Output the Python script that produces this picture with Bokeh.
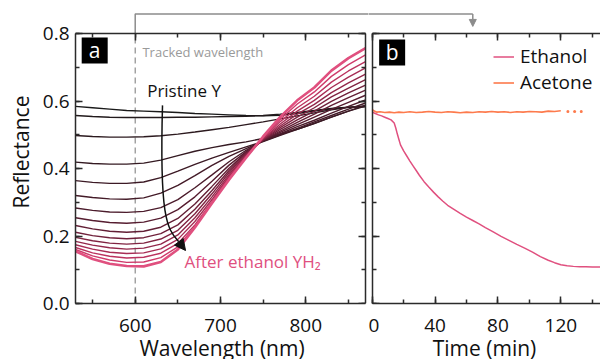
from bokeh.plotting import figure
from bokeh.models import (Range1d, LinearAxis, SingleIntervalTicker, Arrow, NormalHead,
                          Label, Legend, LegendItem, NumeralTickFormatter, GlobalInlineStyleSheet)
from bokeh.layouts import row
from bokeh.embed import file_html
from bokeh.resources import INLINE

FONT = "Open Sans"
AXIS_COLOR = "#2b2b2b"
GRAY = "#8c8c8c"
PINK = "#e0507f"
ORANGE = "#fd7a4c"

# ---------------- data: panel a (spectra) ----------------
wavelengths = [530, 550, 570, 590, 610, 630, 650, 670, 690, 710, 730, 750, 770, 790, 810, 830, 850, 870]

spectrum_00 = [.584, .580, .576, .572, .570, .568, .566, .563, .561, .559, .557, .556, .558, .563, .570, .577, .581, .583]
spectrum_01 = [.557, .554, .552, .551, .551, .551, .552, .552, .553, .554, .555, .557, .561, .566, .572, .578, .582, .584]
spectrum_02 = [.498, .495, .493, .493, .494, .497, .502, .508, .515, .522, .530, .538, .547, .556, .565, .574, .581, .585]
spectrum_03 = [.419, .415, .413, .413, .416, .425, .438, .451, .462, .471, .479, .489, .502, .516, .533, .552, .570, .585]
spectrum_04 = [.364, .359, .356, .356, .360, .373, .392, .412, .431, .448, .464, .480, .498, .516, .534, .552, .570, .588]
spectrum_05 = [.320, .314, .310, .309, .313, .327, .350, .379, .409, .436, .459, .481, .500, .519, .538, .557, .576, .594]
spectrum_06 = [.283, .276, .271, .270, .273, .284, .308, .343, .381, .420, .454, .482, .503, .524, .543, .564, .584, .603]
spectrum_07 = [.254, .246, .240, .238, .241, .253, .278, .316, .362, .410, .450, .483, .507, .530, .552, .575, .596, .617]
spectrum_08 = [.231, .221, .214, .211, .214, .226, .252, .295, .347, .401, .447, .484, .511, .537, .561, .587, .610, .632]
spectrum_09 = [.211, .201, .195, .192, .195, .207, .233, .279, .335, .394, .445, .485, .516, .544, .570, .599, .624, .647]
spectrum_10 = [.196, .186, .179, .176, .179, .191, .217, .266, .325, .388, .442, .486, .521, .552, .580, .612, .638, .663]
spectrum_11 = [.184, .173, .165, .161, .164, .176, .203, .254, .316, .382, .439, .488, .526, .561, .590, .625, .654, .680]
spectrum_12 = [.174, .161, .152, .148, .150, .162, .190, .243, .308, .377, .437, .489, .532, .570, .602, .640, .671, .698]
spectrum_13 = [.166, .150, .140, .135, .137, .149, .178, .233, .302, .373, .435, .491, .539, .580, .614, .656, .689, .717]
spectrum_14 = [.160, .141, .129, .122, .123, .136, .168, .228, .298, .370, .433, .493, .546, .591, .627, .673, .708, .737]
spectrum_15 = [.155, .132, .118, .111, .110, .123, .160, .225, .297, .367, .432, .495, .553, .602, .640, .690, .727, .757]

spectra = [spectrum_00, spectrum_01, spectrum_02, spectrum_03, spectrum_04, spectrum_05,
           spectrum_06, spectrum_07, spectrum_08, spectrum_09, spectrum_10, spectrum_11,
           spectrum_12, spectrum_13, spectrum_14, spectrum_15]
spectra_colors = ["#1a1a1a", "#221a1c", "#2c1a1f", "#341a22", "#3c1a25", "#441b28",
                  "#4c1c2c", "#561d30", "#621f35", "#70213b", "#802442", "#93284b",
                  "#a72d55", "#bb335f", "#cf3b6b", PINK]

# ---------------- data: panel b (time traces) ----------------
time_ethanol = [0, 2, 4, 6, 8, 10, 12, 14, 15, 16, 17, 18, 20, 22, 24, 26, 28, 30, 33, 36, 39, 42,
                45, 48, 52, 56, 60, 64, 68, 72, 77, 82, 87, 92, 97, 102, 107, 112, 116, 120, 124,
                128, 132, 136, 140, 146]
refl_ethanol = [0.567, 0.563, 0.559, 0.556, 0.552, 0.548, 0.544, 0.535, 0.520, 0.502, 0.486, 0.470,
                0.452, 0.437, 0.422, 0.408, 0.394, 0.380, 0.361, 0.345, 0.330, 0.316, 0.303, 0.291,
                0.279, 0.267, 0.256, 0.246, 0.236, 0.225, 0.212, 0.199, 0.187, 0.175, 0.164, 0.152,
                0.139, 0.128, 0.121, 0.115, 0.112, 0.110, 0.109, 0.109, 0.108, 0.108]

time_acetone = [0, 1, 3, 5, 8, 11, 14, 17, 20, 24, 28, 32, 36, 40, 44, 48, 52, 56, 60, 64, 68, 72,
                76, 80, 84, 88, 92, 96, 100, 104, 108, 112, 116, 120]
refl_acetone = [0.575, 0.571, 0.567, 0.568, 0.566, 0.567, 0.565, 0.567, 0.566, 0.568, 0.566, 0.567,
                0.569, 0.567, 0.566, 0.568, 0.567, 0.565, 0.567, 0.566, 0.568, 0.567, 0.569, 0.567,
                0.568, 0.566, 0.568, 0.567, 0.569, 0.568, 0.567, 0.570, 0.569, 0.571]
time_acetone_dots = [124.5, 128.8, 133.0]
refl_acetone_dots = [0.569, 0.569, 0.569]

# ---------------- annotation anchors ----------------
TRACKED_WL = 600
TRACK_TIME = 64
BRACKET_Y = 0.858
ARROW_TIP_Y = 0.821

WL_MIN, WL_MAX = 530, 870
XA_END = 873.5
T_AXIS_MAX = 147
XB_START, XB_END = -2.35, 145.25
R_MIN, R_MAX, Y_END = 0.0, 0.8, 0.8978

# the original figure continues below the visible window; the page hides the overflow
H = 372
BOTTOM = 69


def style_axis(ax, labels=True):
    ax.axis_line_color = AXIS_COLOR
    ax.axis_line_width = 1.5
    ax.major_tick_line_color = AXIS_COLOR
    ax.major_tick_line_width = 1.5
    ax.minor_tick_line_color = AXIS_COLOR
    ax.minor_tick_line_width = 1.5
    ax.major_tick_in = 7
    ax.major_tick_out = 0
    ax.minor_tick_in = 4
    ax.minor_tick_out = 0
    ax.major_label_text_font = FONT
    ax.major_label_text_font_size = "19px"
    ax.major_label_text_color = "#111111" if labels else None
    ax.axis_label_text_font = FONT
    ax.axis_label_text_font_size = "21px"
    ax.axis_label_text_font_style = "normal"
    ax.axis_label_text_color = "#111111"


def new_fig(width, x_range, min_left):
    p = figure(width=width, height=H, x_range=x_range, y_range=Range1d(R_MIN, Y_END),
               output_backend="svg", toolbar_location=None,
               min_border_left=min_left, min_border_right=0, min_border_top=0,
               min_border_bottom=BOTTOM)
    p.xgrid.visible = False
    p.ygrid.visible = False
    p.outline_line_color = None
    p.background_fill_color = "white"
    p.border_fill_color = "white"
    return p


# ================= panel a =================
pa = new_fig(368, Range1d(WL_MIN, XA_END), 75)

wl_ticker = SingleIntervalTicker(interval=100, num_minor_ticks=2)
r_ticker = SingleIntervalTicker(interval=0.2, num_minor_ticks=2)

xa = pa.xaxis[0]
xa.ticker = wl_ticker
xa.bounds = (WL_MIN, WL_MAX)
xa.axis_label = "Wavelength (nm)"
style_axis(xa)
xa.major_label_standoff = 15
xa.axis_label_standoff = -1

ya = pa.yaxis[0]
ya.ticker = r_ticker
ya.bounds = (R_MIN, R_MAX)
ya.axis_label = "Reflectance"
ya.formatter = NumeralTickFormatter(format="0.0")
style_axis(ya)
ya.major_label_standoff = 6
ya.axis_label_standoff = 5

top_a = LinearAxis(ticker=wl_ticker, bounds=(WL_MIN, WL_MAX), fixed_location=R_MAX)
style_axis(top_a, labels=False)
pa.add_layout(top_a, "above")
right_a = LinearAxis(ticker=r_ticker, bounds=(R_MIN, R_MAX), fixed_location=WL_MAX)
style_axis(right_a, labels=False)
pa.add_layout(right_a, "right")

# tracked wavelength marker and bracket
pa.line([TRACKED_WL, TRACKED_WL], [R_MIN, R_MAX], line_color=GRAY, line_width=1.2, line_dash="6 4")
pa.line([TRACKED_WL, TRACKED_WL, XA_END + 10], [R_MAX, BRACKET_Y, BRACKET_Y],
        line_color=GRAY, line_width=1.5)

for spec, col in zip(spectra, spectra_colors):
    lw = 2.6 if col == PINK else 1.4
    pa.line(wavelengths, spec, line_color=col, line_width=lw)

# curved arrow
pa.bezier(x0=632.0, y0=0.587, x1=650.8, y1=0.184, cx0=628.5, cy0=0.261, cx1=636.7, cy1=0.222,
          line_color="#111111", line_width=1.5)
pa.add_layout(Arrow(end=NormalHead(size=11, fill_color="#111111", line_color="#111111"),
                    x_start=650.8, y_start=0.184, x_end=659.0, y_end=0.157,
                    line_color="#111111", line_width=1.5))

pa.add_layout(Label(x=608.5, y=0.744, text="Tracked wavelength", text_font=FONT,
                    text_font_size="13px", text_color="#9a9a9a", text_baseline="middle"))
pa.add_layout(Label(x=614.0, y=0.632, text="Pristine Y", text_font=FONT,
                    text_font_size="17px", text_color="#111111", text_baseline="middle"))
pa.add_layout(Label(x=657.8, y=0.125, text="After ethanol YH\u2082", text_font=FONT,
                    text_font_size="17px", text_color=PINK, text_baseline="middle"))

pa.rect(x=[552.5], y=[0.750], width=26, height=26, width_units="screen", height_units="screen",
        fill_color="black", line_color=None)
pa.text(x=[552.5], y=[0.750], text=["a"], text_color="white", text_font_size="21px",
        text_align="center", text_baseline="middle", text_font={"value": FONT})

# ================= panel b =================
pb = new_fig(232, Range1d(XB_START, XB_END), 0)

t_ticker = SingleIntervalTicker(interval=40, num_minor_ticks=2)

xb = pb.xaxis[0]
xb.ticker = t_ticker
xb.bounds = (0, T_AXIS_MAX)
xb.axis_label = "Time (min)"
style_axis(xb)
xb.major_label_standoff = 15
xb.axis_label_standoff = -1

yb = pb.yaxis[0]
yb.ticker = r_ticker
yb.bounds = (R_MIN, R_MAX)
yb.fixed_location = 0
style_axis(yb, labels=False)

top_b = LinearAxis(ticker=t_ticker, bounds=(0, T_AXIS_MAX), fixed_location=R_MAX)
style_axis(top_b, labels=False)
pb.add_layout(top_b, "above")

pb.line([XB_START - 10, TRACK_TIME], [BRACKET_Y, BRACKET_Y], line_color=GRAY, line_width=1.5)
pb.add_layout(Arrow(end=NormalHead(size=7, fill_color=GRAY, line_color=GRAY),
                    x_start=TRACK_TIME, y_start=BRACKET_Y, x_end=TRACK_TIME, y_end=ARROW_TIP_Y,
                    line_color=GRAY, line_width=1.5))

r_eth = pb.line(time_ethanol, refl_ethanol, line_color=PINK, line_width=1.5)
r_ace = pb.line(time_acetone, refl_acetone, line_color=ORANGE, line_width=1.6)
pb.scatter(time_acetone_dots, refl_acetone_dots, size=3, fill_color=ORANGE, line_color=None)

legend = Legend(items=[LegendItem(label="Ethanol", renderers=[r_eth]),
                       LegendItem(label="Acetone", renderers=[r_ace])],
                location=(125, 208), glyph_width=21, glyph_height=21, label_height=21,
                label_standoff=6, padding=0, margin=0, spacing=-4,
                border_line_color=None, background_fill_alpha=0,
                label_text_font=FONT, label_text_font_size="19px", label_text_color="#111111")
pb.add_layout(legend)

pb.rect(x=[12.7], y=[0.744], width=26, height=26, width_units="screen", height_units="screen",
        fill_color="black", line_color=None)
pb.text(x=[12.7], y=[0.744], text=["b"], text_color="white", text_font_size="21px",
        text_align="center", text_baseline="middle", text_font={"value": FONT})

layout = row(pa, pb, stylesheets=[GlobalInlineStyleSheet(css="html, body { overflow: hidden; }")])
open("out.html", "w").write(file_html(layout, INLINE))
